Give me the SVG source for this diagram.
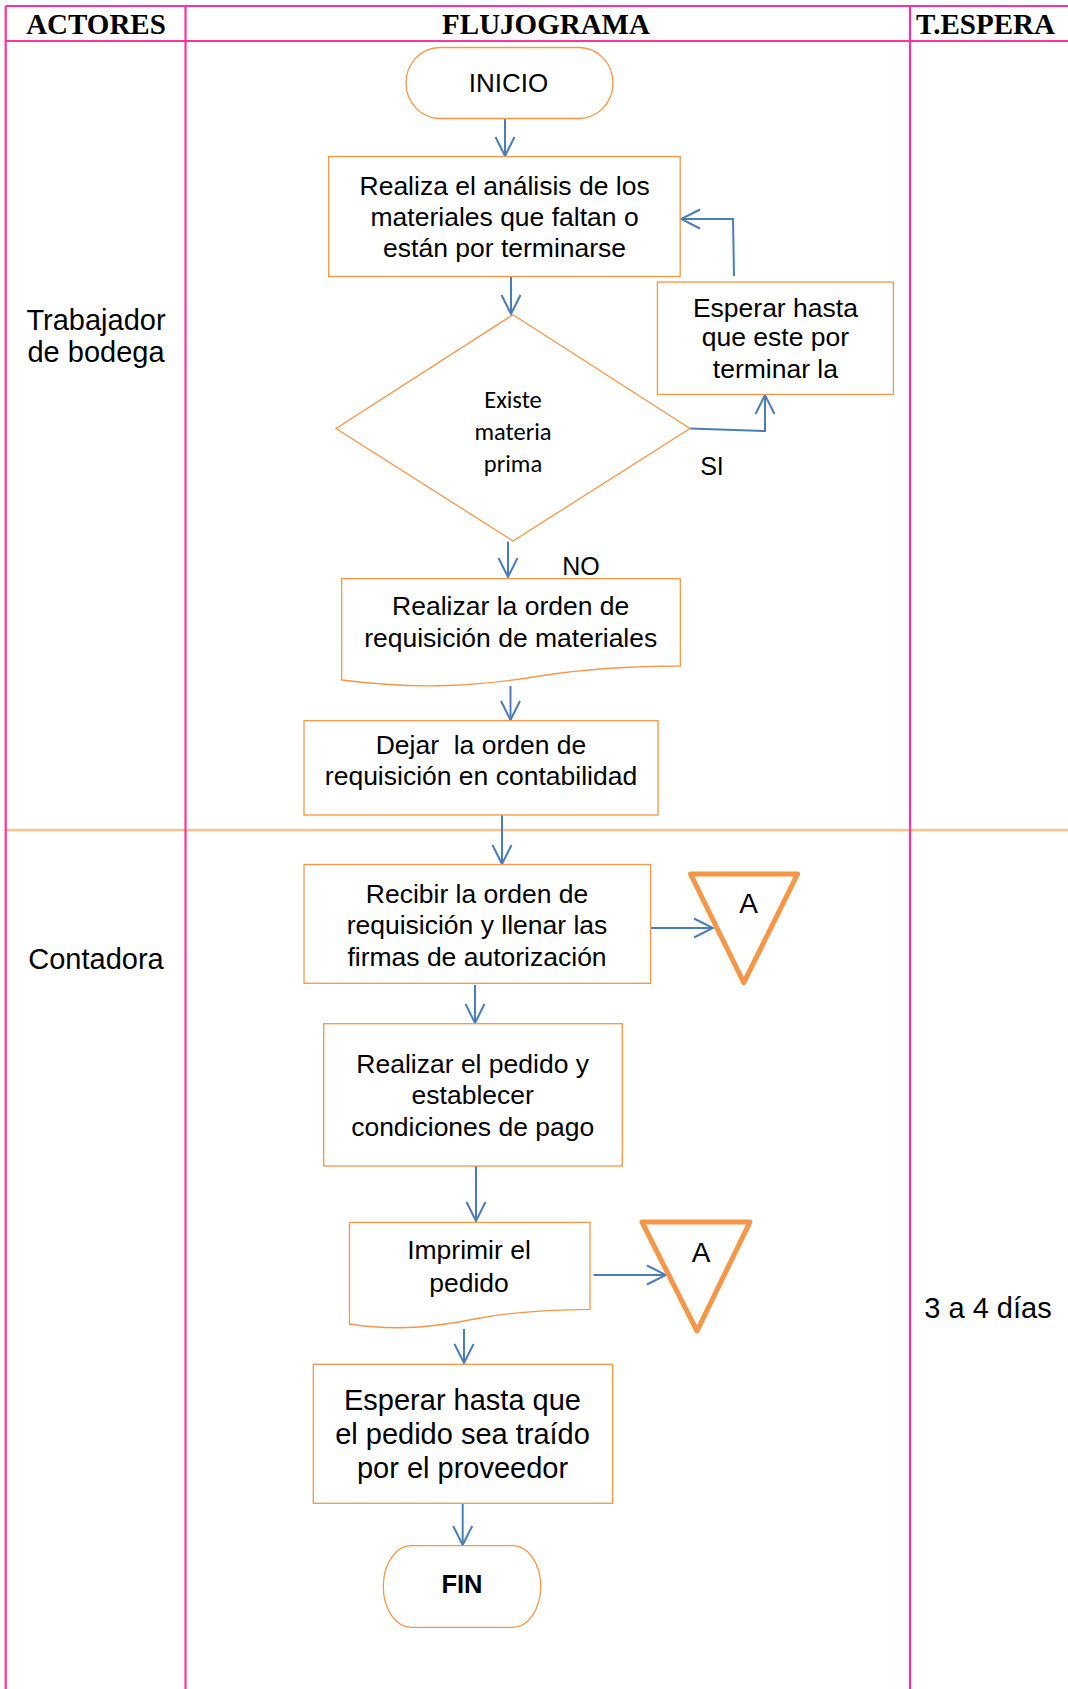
<svg xmlns="http://www.w3.org/2000/svg" width="1068" height="1689" viewBox="0 0 1068 1689">
  <defs>
    <style>
      .grid { stroke: #FF3399; stroke-width: 2.2; fill: none; }
      .lane { stroke: #FAC08F; stroke-width: 2.5; fill: none; }
      .shape { fill: #FFFFFF; stroke: #F79646; stroke-width: 1.3; }
      .store { fill: #FFFFFF; stroke: #F79646; stroke-width: 5; stroke-linejoin: round; }
      .flow { stroke: #4A7EBB; stroke-width: 2; fill: none; marker-end: url(#arrow); }
      .hdr { font-family: "Liberation Serif", "Times New Roman", serif; font-weight: bold; font-size: 29px; fill: #000; text-anchor: middle; }
      .txt { font-family: "Liberation Sans", Arial, sans-serif; font-size: 26.5px; fill: #000; text-anchor: middle; white-space: pre; }
      .big { font-size: 29px; }
      .cal { font-family: Carlito, Lato, "Liberation Sans", sans-serif; font-size: 24.5px; fill: #000; text-anchor: middle; }
    </style>
    <marker id="arrow" markerUnits="userSpaceOnUse" markerWidth="22" markerHeight="22" viewBox="0 0 22 22" refX="20" refY="11" orient="auto">
      <path d="M1,1.5 L20,11 L1,20.5" fill="none" stroke="#4A7EBB" stroke-width="2"/>
    </marker>
  </defs>

  <rect width="1068" height="1689" fill="#FFFFFF"/>

  <!-- table frame -->
  <g id="table">
    <line class="lane" x1="5.7" y1="830" x2="1068" y2="830"/>
    <line class="grid" x1="5.7" y1="6" x2="1068" y2="6"/>
    <line class="grid" x1="5.7" y1="41" x2="1068" y2="41"/>
    <line class="grid" x1="5.7" y1="6" x2="5.7" y2="1689"/>
    <line class="grid" x1="185.5" y1="6" x2="185.5" y2="1689"/>
    <line class="grid" x1="910" y1="6" x2="910" y2="1689"/>
    <text class="hdr" x="96" y="34.3">ACTORES</text>
    <text class="hdr" x="546" y="34.3">FLUJOGRAMA</text>
    <text class="hdr" x="985.5" y="34.3">T.ESPERA</text>
    <text class="txt big" x="96" y="330">Trabajador</text>
    <text class="txt big" x="96" y="362.3">de bodega</text>
    <text class="txt big" x="96" y="969.3">Contadora</text>
    <text class="txt big" x="988" y="1317.7">3 a 4 días</text>
  </g>

  <!-- connectors -->
  <g id="connectors">
    <path class="flow" d="M505,118.5 V156"/>
    <path class="flow" d="M511,276.5 V314"/>
    <path class="flow" d="M690,428.5 L765,431 V395"/>
    <path class="flow" d="M734,276 L733,219 H681"/>
    <path class="flow" d="M508,541.5 V577"/>
    <path class="flow" d="M510.5,686 V720"/>
    <path class="flow" d="M502,815 V864"/>
    <path class="flow" d="M641,928 H713"/>
    <path class="flow" d="M475,985 V1023"/>
    <path class="flow" d="M476,1166 V1221"/>
    <path class="flow" d="M593.5,1275 H666"/>
    <path class="flow" d="M464,1329 V1363"/>
    <path class="flow" d="M462.7,1504 V1545"/>
    <text class="txt" x="712" y="475" style="font-size:25px">SI</text>
    <text class="txt" x="581" y="575" style="font-size:25px">NO</text>
  </g>

  <g id="inicio">
    <rect class="shape" x="406" y="47.5" width="207" height="71" rx="34" ry="35.5"/>
    <text class="txt" x="508.5" y="91.7" style="font-size:26px">INICIO</text>
  </g>

  <g id="analisis">
    <rect class="shape" x="328.7" y="156.5" width="351.5" height="120"/>
    <text class="txt" x="504.6" y="195">Realiza el análisis de los</text>
    <text class="txt" x="504.6" y="225.7">materiales que faltan o</text>
    <text class="txt" x="504.6" y="256.7">están por terminarse</text>
  </g>

  <g id="decision">
    <polygon class="shape" points="513,314.7 690,428.5 513,541 336,428.5"/>
    <text class="cal" x="513" y="407.7">Existe</text>
    <text class="cal" x="513" y="439.5">materia</text>
    <text class="cal" x="513" y="472.3">prima</text>
  </g>

  <g id="esperar-termine">
    <rect class="shape" x="657.4" y="282" width="236" height="112.4"/>
    <text class="txt" x="775.4" y="316.7">Esperar hasta</text>
    <text class="txt" x="775.4" y="346">que este por</text>
    <text class="txt" x="775.4" y="377.7">terminar la</text>
  </g>

  <g id="orden-requisicion">
    <path class="shape" d="M341.7,578.7 H680.3 V666 C640,666 590,668 540,676 C480,686 420,690 341.7,680 Z"/>
    <text class="txt" x="510.7" y="615">Realizar la orden de</text>
    <text class="txt" x="510.7" y="646.7">requisición de materiales</text>
  </g>

  <g id="dejar-orden">
    <rect class="shape" x="304" y="720.7" width="354" height="94.3"/>
    <text class="txt" x="481" y="754.3">Dejar  la orden de</text>
    <text class="txt" x="481" y="785">requisición en contabilidad</text>
  </g>

  <g id="recibir-orden">
    <rect class="shape" x="304" y="864.5" width="346.5" height="118.8"/>
    <text class="txt" x="477" y="903.3">Recibir la orden de</text>
    <text class="txt" x="477" y="934">requisición y llenar las</text>
    <text class="txt" x="477" y="966">firmas de autorización</text>
  </g>

  <g id="archivo-1">
    <polygon class="store" points="690.5,874 797.6,874 743.8,982.7"/>
    <text class="txt" x="748.5" y="913.3" style="font-size:28px">A</text>
  </g>

  <g id="realizar-pedido">
    <rect class="shape" x="323.7" y="1023.7" width="298.6" height="142.3"/>
    <text class="txt" x="472.7" y="1073.3">Realizar el pedido y</text>
    <text class="txt" x="472.7" y="1104">establecer</text>
    <text class="txt" x="472.7" y="1135.7">condiciones de pago</text>
  </g>

  <g id="imprimir-pedido">
    <path class="shape" d="M349.5,1222.3 H590 V1309.3 C560,1309.5 520,1311 480,1318 C440,1326 400,1332 349.5,1324 Z"/>
    <text class="txt" x="469" y="1259.3">Imprimir el</text>
    <text class="txt" x="469" y="1291.7">pedido</text>
  </g>

  <g id="archivo-2">
    <polygon class="store" points="642,1222 750,1222 697,1331"/>
    <text class="txt" x="701" y="1261.7" style="font-size:28px">A</text>
  </g>

  <g id="esperar-proveedor">
    <rect class="shape" x="313.3" y="1364.3" width="299.4" height="139"/>
    <text class="txt big" x="462.5" y="1410">Esperar hasta que</text>
    <text class="txt big" x="462.5" y="1444">el pedido sea traído</text>
    <text class="txt big" x="462.5" y="1478.3">por el proveedor</text>
  </g>

  <g id="fin">
    <rect class="shape" x="383.3" y="1545.7" width="157.4" height="81.6" rx="28" ry="40.8"/>
    <text class="txt" x="462" y="1593.3" style="font-size:25.5px;font-weight:bold">FIN</text>
  </g>
</svg>
